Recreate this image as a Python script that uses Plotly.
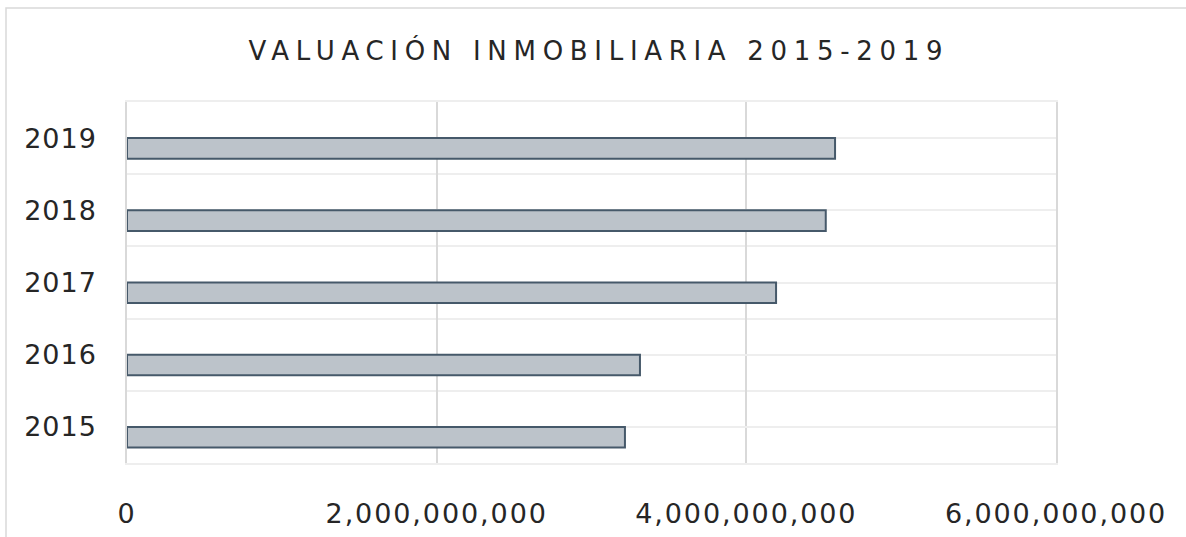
import plotly.graph_objects as go

years = ["2015", "2016", "2017", "2018", "2019"]
values = [3.216e9, 3.313e9, 4.192e9, 4.513e9, 4.573e9]
x_ticks = [0, 2e9, 4e9, 6e9]
x_tick_labels = ["0", "2,000,000,000", "4,000,000,000", "6,000,000,000"]
title_text = "VALUACIÓN INMOBILIARIA 2015-2019"

W, H = 1186, 537
L, R, T, B = 127, 130, 102, 74
pw, ph = W - L - R, H - T - B

pos = list(range(len(years)))

fig = go.Figure()
fig.add_trace(go.Bar(
    x=values, y=pos, orientation="h",
    width=0.285, offset=-0.285,
    marker=dict(color="#bcc3ca", line=dict(color="#46596a", width=2)),
    hoverinfo="x+y",
))

def ls(t, sp):
    return f'<span style="letter-spacing:{sp}px">{t}</span>'

fig.update_layout(
    width=W, height=H,
    margin=dict(l=L, r=R, t=T, b=B, autoexpand=False),
    paper_bgcolor="white", plot_bgcolor="white",
    showlegend=False,
    title=dict(text=ls(title_text, 6.7), x=0.505, xanchor="center",
               y=1 - 51 / H, yanchor="middle",
               font=dict(family="DejaVu Sans", size=26, color="#262626")),
    xaxis=dict(range=[0, 6e9], tickvals=x_ticks,
               ticktext=[ls(t, 1.9) for t in x_tick_labels],
               showgrid=True, gridcolor="#d9d9d9", gridwidth=1.5,
               zeroline=False, showline=True, mirror=True,
               linecolor="#eeeeee", linewidth=1.5, ticks="",
               ticklabelstandoff=26,
               tickfont=dict(family="DejaVu Sans", size=27, color="#262626")),
    yaxis=dict(range=[-0.5, 4.5], tickvals=pos,
               ticktext=[ls(t, 1) for t in years],
               showgrid=True, gridcolor="#eeeeee", gridwidth=1.5,
               minor=dict(tickmode="linear", tick0=0.5, dtick=1, showgrid=True,
                          gridcolor="#eeeeee", gridwidth=1.5, ticks=""),
               zeroline=False, showline=True, mirror=True,
               linecolor="#d9d9d9", linewidth=1.5, ticks="",
               ticklabelstandoff=23,
               tickfont=dict(family="DejaVu Sans", size=27, color="#262626")),
    shapes=[dict(type="rect", xref="paper", yref="paper",
                 x0=(6 - L) / pw, x1=(W + 20 - L) / pw,
                 y0=-(B + 20) / ph, y1=(H - 8 - B) / ph,
                 line=dict(color="#d9d9d9", width=1.5), fillcolor="rgba(0,0,0,0)",
                 layer="below")],
)

fig.write_html("out.html", config={"displayModeBar": False},
               post_script="document.body.style.margin='0';")
